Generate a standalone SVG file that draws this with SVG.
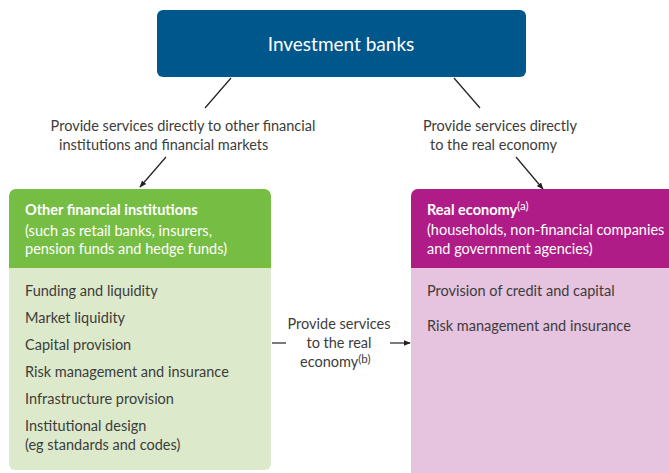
<svg xmlns="http://www.w3.org/2000/svg" width="669" height="473" viewBox="0 0 669 473">
<defs>
<marker id="ah" viewBox="0 0 10 10" refX="9" refY="5" markerWidth="7" markerHeight="7" orient="auto" markerUnits="userSpaceOnUse">
<path d="M0,1 L10,5 L0,9 z" fill="#231f20"/>
</marker>
<style>
text{font-family:Lato,"Liberation Sans",sans-serif;font-size:14.5px;fill:#3c3c3b}
.w{fill:#ffffff}
.b{font-weight:bold}
.c{text-anchor:middle}
.sup{font-size:11.5px}
.ln{stroke:#231f20;stroke-width:1.2;fill:none}
</style>
</defs>
<rect width="669" height="473" fill="#ffffff"/>
<g id="investment-banks">
<rect x="157" y="10" width="369" height="67" rx="6" fill="#00578c"/>
<text x="341" y="51" class="w c" style="font-size:19px">Investment banks</text>
</g>
<g id="other-financial">
<path d="M9,196 a7,7 0 0 1 7,-7 h248 a7,7 0 0 1 7,7 v268 a6,6 0 0 1 -6,6 h-250 a6,6 0 0 1 -6,-6 z" fill="#dceacb"/>
<path d="M9,196 a7,7 0 0 1 7,-7 h248 a7,7 0 0 1 7,7 v72 h-262 z" fill="#76bd43"/>
<text x="25" y="215" class="w b">Other financial institutions</text>
<text x="25" y="236" class="w">(such as retail banks, insurers,</text>
<text x="25" y="254" class="w">pension funds and hedge funds)</text>
<text x="25" y="296">Funding and liquidity</text>
<text x="25" y="323">Market liquidity</text>
<text x="25" y="350">Capital provision</text>
<text x="25" y="377">Risk management and insurance</text>
<text x="25" y="404">Infrastructure provision</text>
<text x="25" y="431">Institutional design</text>
<text x="25" y="450">(eg standards and codes)</text>
</g>
<g id="real-economy">
<path d="M411,196 a7,7 0 0 1 7,-7 h260 v290 h-261 a6,6 0 0 1 -6,-6 z" fill="#e6c3df"/>
<path d="M411,196 a7,7 0 0 1 7,-7 h260 v79 h-267 z" fill="#b01c87"/>
<text x="427" y="215" class="w"><tspan class="b">Real economy</tspan><tspan dy="-5" class="w sup">(a)</tspan></text>
<text x="427" y="235" class="w">(households, non-financial companies</text>
<text x="427" y="254" class="w">and government agencies)</text>
<text x="427" y="296">Provision of credit and capital</text>
<text x="427" y="331">Risk management and insurance</text>
</g>
<g id="connectors">
<line class="ln" x1="231" y1="78" x2="205" y2="108"/>
<line class="ln" x1="166" y1="157" x2="140" y2="187" marker-end="url(#ah)"/>
<line class="ln" x1="454" y1="78" x2="480" y2="108"/>
<line class="ln" x1="516" y1="157" x2="543" y2="189" marker-end="url(#ah)"/>
<line class="ln" x1="272" y1="343" x2="286" y2="343"/>
<line class="ln" x1="390" y1="343" x2="410" y2="343" marker-end="url(#ah)"/>
</g>
<g id="labels">
<text x="183" y="131" class="c">Provide services directly to other financial</text>
<text x="59" y="150">institutions and financial markets</text>
<text x="423" y="131">Provide services directly</text>
<text x="430" y="150">to the real economy</text>
<text x="339" y="329" class="c">Provide services</text>
<text x="339" y="348" class="c">to the real</text>
<text x="300" y="367">economy<tspan dy="-4" class="sup">(b)</tspan></text>
</g>
</svg>
